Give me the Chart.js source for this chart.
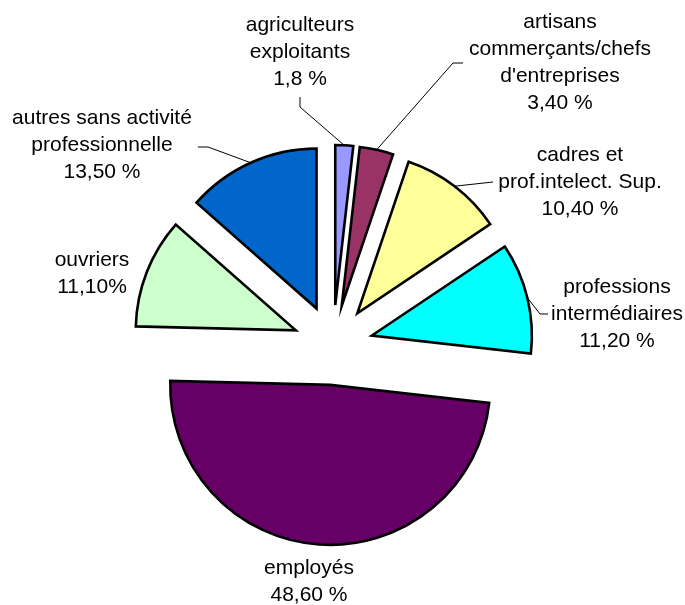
<!DOCTYPE html>
<html>
<head>
<meta charset="utf-8">
<script src="https://cdn.jsdelivr.net/npm/chart.js@4/dist/chart.umd.min.js"></script>
<style>
    body { margin: 0; background: #fff; }
</style>
</head>
<body>
<canvas id="pieChart" width="685" height="605"></canvas>
<script>
// data
const categories = [
    ['agriculteurs', 'exploitants'],
    ['artisans', 'commerçants/chefs', "d'entreprises"],
    ['cadres et', 'prof.intelect. Sup.'],
    ['professions', 'intermédiaires'],
    ['employés'],
    ['ouvriers'],
    ['autres sans activité', 'professionnelle']
];
const shares = [1.8, 3.4, 10.4, 11.2, 48.6, 11.1, 13.5];
const shareLabels = ['1,8 %', '3,40 %', '10,40 %', '11,20 %', '48,60 %', '11,10%', '13,50 %'];

const sliceColors = ['#9999FF', '#993366', '#FFFF99', '#00FFFF', '#660066', '#CCFFCC', '#0066CC'];

// label layout: text centre and first line y, plus leader elbow points
const labelLayout = [
    { x: 300, y: 25, leader: [[300, 97], [300, 107]] },
    { x: 560, y: 22, leader: [[463, 63], [453, 63]] },
    { x: 580, y: 155, leader: [[493, 182]] },
    { x: 617, y: 287, leader: [[548, 314], [540, 314]] },
    { x: 309, y: 568, leader: null },
    { x: 92, y: 260, leader: null },
    { x: 102, y: 118, leader: [[198, 147], [208, 147]] }
];
const LINE_H = 27;
const EXPLODE = 40;

// pull every slice out from the centre by the same distance
const baseArcDraw = Chart.ArcElement.prototype.draw;
Chart.ArcElement.prototype.draw = function (ctx) {
    const mid = (this.startAngle + this.endAngle) / 2;
    ctx.save();
    ctx.translate(Math.cos(mid) * EXPLODE, Math.sin(mid) * EXPLODE);
    baseArcDraw.call(this, ctx);
    ctx.restore();
};

const sliceLabels = {
    id: 'sliceLabels',
    afterDraw(chart) {
        const ctx = chart.ctx;
        const arcs = chart.getDatasetMeta(0).data;
        ctx.save();
        ctx.font = '21px "Liberation Sans", Arial, sans-serif';
        ctx.fillStyle = '#000';
        ctx.textAlign = 'center';
        ctx.textBaseline = 'middle';
        arcs.forEach((arc, i) => {
            const lay = labelLayout[i];
            const lines = categories[i].concat([shareLabels[i]]);
            lines.forEach((t, k) => ctx.fillText(t, lay.x, lay.y + k * LINE_H));

            if (lay.leader) {
                const mid = (arc.startAngle + arc.endAngle) / 2;
                const r = EXPLODE + arc.outerRadius;
                ctx.beginPath();
                ctx.strokeStyle = '#000';
                ctx.lineWidth = 1;
                ctx.moveTo(lay.leader[0][0], lay.leader[0][1]);
                for (let k = 1; k < lay.leader.length; k++) {
                    ctx.lineTo(lay.leader[k][0], lay.leader[k][1]);
                }
                ctx.lineTo(arc.x + Math.cos(mid) * r, arc.y + Math.sin(mid) * r);
                ctx.stroke();
            }
        });
        ctx.restore();
    }
};

const ctx = document.getElementById('pieChart').getContext('2d');
const pieChart = new Chart(ctx, {
    type: 'pie',
    data: {
        labels: categories.map(c => c.join(' ')),
        datasets: [{
            data: shares,
            backgroundColor: sliceColors,
            borderColor: '#000',
            borderWidth: 2.6,
            borderJoinStyle: 'miter'
        }]
    },
    options: {
        responsive: false,
        animation: false,
        radius: 160,
        layout: {
            padding: { left: 0, right: 19, top: 85, bottom: 0 }
        },
        plugins: {
            legend: { display: false },
            tooltip: { enabled: false }
        }
    },
    plugins: [sliceLabels]
});
</script>
</body>
</html>
